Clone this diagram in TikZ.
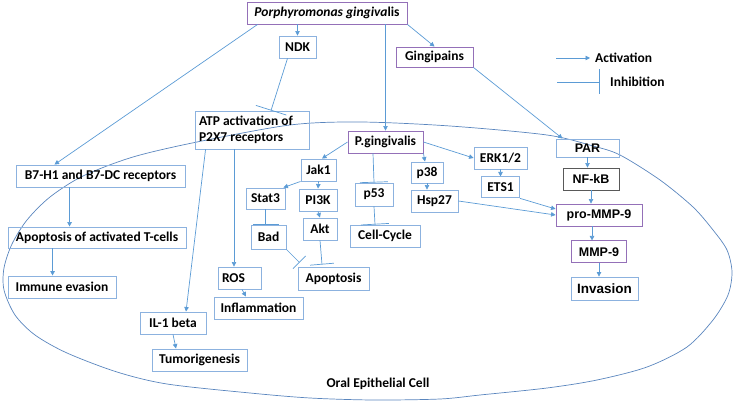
\documentclass[tikz,border=0pt]{standalone}
\usepackage{fontspec}
\setmainfont{Carlito}
\newfontfamily\arialfont{Liberation Sans}
\usetikzlibrary{positioning,arrows.meta}
\definecolor{myblue}{HTML}{8CB2DF}
\definecolor{arrowblue}{HTML}{5B9BD5}
\definecolor{mypurple}{HTML}{9470B8}
\definecolor{mygray}{HTML}{595959}
\definecolor{cellblue}{HTML}{5A86BE}
\newcommand{\boxfont}{\fontsize{13.5}{16}\selectfont\bfseries}
\newcommand{\arialbold}{\arialfont\fontsize{12.5}{15}\selectfont\bfseries}

\begin{document}
\begin{tikzpicture}[x=1pt, y=-1pt,
        box/.style={draw=myblue, line width=0.9pt, minimum height=22pt, inner sep=2pt, font=\boxfont},
        pbox/.style={box, draw=mypurple},
        abox/.style={box, font=\arialbold},
        act/.style={draw=arrowblue, line width=0.7pt, -{Triangle[length=4.5pt,width=4.5pt]}},
        inh/.style={draw=arrowblue, line width=0.7pt, -{Bar[width=#1]}},
        inh/.default=26pt]
        \useasboundingbox (0,0) rectangle (733,403);
        % cell outline
        \draw[cellblue, line width=0.7pt] plot[smooth cycle] coordinates {
            (197,142) (133,157) (83,176) (50,197) (27,220) (12,244) (4,268) (4,290)
            (15,315) (35,335) (67,353) (117,372) (167,384) (250,393) (310,398) (373,400)
            (440,399) (480,395) (547,388) (597,380) (647,367) (687,347) (713,320) (728,295)
            (732,272) (727,250) (713,230) (693,207) (660,180) (620,155) (593,146) (547,135)
            (450,126) (360,122) (290,125)};
        \node[font=\boxfont] (cell) at (378,384) {Oral Epithelial Cell};
        % top
        \node[pbox, minimum width=160pt] (Pg) at (327,13) {\textit{Porphyromonas gingiva}lis};
        \node[box, minimum width=37pt] (NDK) at (297.5,47) {NDK};
        \node[pbox, minimum width=77pt, minimum height=20pt] (Ging) at (434.5,57) {Gingipains};
        \node[box, minimum width=114pt, minimum height=38pt, text width=106pt, align=flush left] (ATP) at (252,130) {ATP activation of\\P2X7 receptors};
        % left column
        \node[box, minimum width=169pt] (B7) at (100.5,176) {B7-H1 and B7-DC receptors};
        \node[box, minimum width=178pt, minimum height=21pt] (ApoT) at (97,237.5) {Apoptosis of activated T-cells};
        \node[box, minimum width=108pt] (Immune) at (62,287) {Immune evasion};
        \node[box, minimum width=66pt] (IL1) at (173,323) {IL-1 beta};
        \node[box, minimum width=95pt] (Tumor) at (199.5,360) {Tumorigenesis};
        \node[box, minimum width=43pt, text width=35pt, align=flush left] (ROS) at (239.5,278) {ROS};
        \node[box, minimum width=89pt] (Inflam) at (258.5,308) {Inflammation};
        % middle
        \node[pbox, minimum width=75pt] (PgC) at (385.5,142) {P.gingivalis};
        \node[box, minimum width=35pt] (Jak1) at (318.5,170) {Jak1};
        \node[box, minimum width=39pt, minimum height=21pt] (Stat3) at (265.5,198.5) {Stat3};
        \node[box, minimum width=38pt] (PI3K) at (318,200) {PI3K};
        \node[box, minimum width=35pt, minimum height=24pt] (Bad) at (268.5,237) {Bad};
        \node[box, minimum width=34pt] (Akt) at (320,229) {Akt};
        \node[box, minimum width=71pt, minimum height=23pt] (ApoC) at (333.5,278.5) {Apoptosis};
        \node[box, minimum width=38pt, minimum height=23pt] (p53) at (374,194.5) {p53};
        \node[box, minimum width=70pt] (CC) at (385,236) {Cell-Cycle};
        \node[box, minimum width=32pt, minimum height=21pt] (p38) at (427,172.5) {p38};
        \node[box, minimum width=47pt] (Hsp27) at (434.5,201) {Hsp27};
        \node[box, minimum width=53pt] (ERK) at (500.5,158) {ERK1/2};
        \node[box, minimum width=38pt, minimum height=21pt] (ETS1) [below=7pt of ERK] {ETS1};
        % right column
        \node[abox, minimum width=63pt, minimum height=18pt] (PAR) at (587.5,148) {PAR};
        \node[abox, draw=mygray, minimum width=56pt] (NFkB) at (591,179) {NF-kB};
        \node[abox, draw=mypurple, minimum width=86pt] (proMMP) at (599,215) {pro-MMP-9};
        \node[abox, draw=mypurple, minimum width=55pt] (MMP) [below=14pt of proMMP] {MMP-9};
        \node[box, font=\arialfont\fontsize{13.5}{16}\selectfont\bfseries, minimum width=67pt, minimum height=23pt] (Inv) at (604.5,288.5) {Invasion};
        % legend
        \coordinate (actfrom) at (556,58);
        \node[anchor=west, inner sep=5pt, font=\boxfont] (actlbl) at (590,58) {Activation};
        \coordinate (inhfrom) at (557,82);
        \coordinate (inhto) at (600,82);
        \node[anchor=west, inner sep=3pt, font=\boxfont] (inhlbl) at (607,82) {Inhibition};
        \draw[act] (actfrom) -- (actlbl.west);
        \draw[inh=25pt] (inhfrom) -- (inhto);
        % activation
        \draw[act] (Pg.south -| NDK.north) -- (NDK.north);
        \draw[act] ([xshift=11pt]Pg.south west) -- ([xshift=-46pt]B7.north);
        \draw[act] (Pg.south -| PgC.north) -- (PgC.north);
        \draw[act] (Pg.south east) -- (Ging.north);
        \draw[act] (Ging.south east) -- ([xshift=-25pt]PAR.north);
        \draw[act] ([xshift=54pt]B7.south west) -- ([xshift=62pt]ApoT.north west);
        \draw[act] ([xshift=45pt]ApoT.south west) -- ([xshift=45pt]Immune.north west);
        \draw[act] ([xshift=11pt]ATP.south west) -- ([xshift=13pt]IL1.north);
        \draw[act] ([xshift=-18pt]ATP.south) -- ([xshift=-5.5pt]ROS.north);
        \draw[act] ([xshift=2.5pt]ROS.south) -- ([xshift=-12.5pt]Inflam.north);
        \draw[act] (IL1.south) -- ([xshift=-23.5pt]Tumor.north);
        \draw[act] (PgC.west) -- ([xshift=3.5pt]Jak1.north);
        \draw[act] (PgC.south east) -- ([xshift=-2pt]p38.north);
        \draw[act] (PgC.east) -- (ERK.west);
        \draw[act] (Jak1.south west) -- ([xshift=-2pt]Stat3.north east);
        \draw[act] (Jak1.south) -- (PI3K.north);
        \draw[act] (PI3K.south) -- (Akt.north);
        \draw[act] (p38.south) -- ([xshift=-7.5pt]Hsp27.north);
        \draw[act] (ERK.south) -- (ETS1.north);
        \draw[act] (ETS1.south east) -- ([yshift=6pt]proMMP.west);
        \draw[act] (Hsp27.east) -- (proMMP.west);
        \draw[act] (PAR.south) -- (PAR.south |- NFkB.north);
        \draw[act] (NFkB.south) -- (NFkB.south |- proMMP.north);
        \draw[act] ([xshift=-7pt]proMMP.south) -- ([xshift=-7pt]MMP.north);
        \draw[act] (MMP.south) -- (MMP.south |- Inv.north);
        % inhibition
        \draw[inh=32pt] ([xshift=-10pt]NDK.south) -- ([xshift=19pt]ATP.north);
        \draw[inh=28pt] ([xshift=-12.5pt]PgC.south) -- (p53.north);
        \draw[inh] (Stat3.south) -- ([xshift=-3pt]Bad.north);
        \draw[inh=18pt] (Bad.south east) -- ([xshift=2pt,yshift=4pt]ApoC.north west);
        \draw[inh=24pt] (Akt.south) -- ([xshift=-11.5pt,yshift=2pt]ApoC.north);
        \draw[inh=28pt] (p53.south) -- ([xshift=-10pt]CC.north);
\end{tikzpicture}
\end{document}
